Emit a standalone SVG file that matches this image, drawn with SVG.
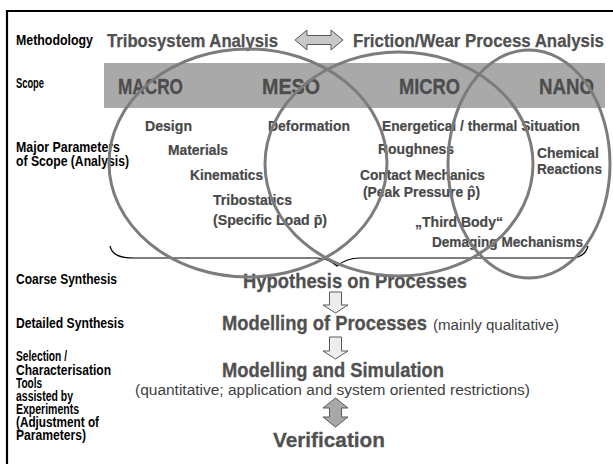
<svg xmlns="http://www.w3.org/2000/svg" width="613" height="464" viewBox="0 0 613 464">
<style>
text{font-family:"Liberation Sans Narrow","Arial Narrow","Liberation Sans",Arial,sans-serif;font-weight:bold}
.lbl{font-size:14px;fill:#000}
.ttl{font-size:18.5px;fill:#505050;stroke:#505050;stroke-width:0.25}
.scope{font-size:22.5px;fill:#4d4d4d;stroke:#4d4d4d;stroke-width:0.3}
.par{font-size:15px;fill:#484848;stroke:#484848;stroke-width:0.2}
.big{font-size:21px;fill:#505050;stroke:#505050;stroke-width:0.3}
.sub{font-size:15.5px;font-weight:normal;fill:#404040}
.ell{fill:none;stroke:#7c7c7c;stroke-width:3}
.arr{stroke:#5a5a5a;stroke-width:1;stroke-linejoin:miter}
</style>
<rect width="613" height="464" fill="#fff"/>
<path d="M7,464 V11 H613" fill="none" stroke="#000" stroke-width="2.2"/>

<g id="left-labels">
<text class="lbl" x="16" y="45" textLength="77" lengthAdjust="spacingAndGlyphs">Methodology</text>
<text class="lbl" x="16" y="88" textLength="28" lengthAdjust="spacingAndGlyphs">Scope</text>
<text class="lbl" x="16" y="152" textLength="104" lengthAdjust="spacingAndGlyphs">Major Parameters</text>
<text class="lbl" x="16" y="166" textLength="113" lengthAdjust="spacingAndGlyphs">of Scope (Analysis)</text>
<text class="lbl" x="16" y="284" textLength="101" lengthAdjust="spacingAndGlyphs">Coarse Synthesis</text>
<text class="lbl" x="16" y="328" textLength="108" lengthAdjust="spacingAndGlyphs">Detailed Synthesis</text>
<text class="lbl" x="16" y="361" textLength="51" lengthAdjust="spacingAndGlyphs">Selection /</text>
<text class="lbl" x="16" y="374.5" textLength="95" lengthAdjust="spacingAndGlyphs">Characterisation</text>
<text class="lbl" x="16" y="388" textLength="26" lengthAdjust="spacingAndGlyphs">Tools</text>
<text class="lbl" x="16" y="401" textLength="57" lengthAdjust="spacingAndGlyphs">assisted by</text>
<text class="lbl" x="16" y="414" textLength="63" lengthAdjust="spacingAndGlyphs">Experiments</text>
<text class="lbl" x="16" y="427" textLength="83" lengthAdjust="spacingAndGlyphs">(Adjustment of</text>
<text class="lbl" x="16" y="440" textLength="70" lengthAdjust="spacingAndGlyphs">Parameters)</text>
</g>

<g id="methodology">
<text class="ttl" x="107" y="47" textLength="171" lengthAdjust="spacingAndGlyphs">Tribosystem Analysis</text>
<text class="ttl" x="353" y="47" textLength="251" lengthAdjust="spacingAndGlyphs">Friction/Wear Process Analysis</text>
</g>

<g id="scope-band">
<rect x="104" y="63" width="501" height="45" fill="#a9a9a9"/>
<text class="scope" x="118" y="94" textLength="65" lengthAdjust="spacingAndGlyphs">MACRO</text>
<text class="scope" x="262" y="94" textLength="58" lengthAdjust="spacingAndGlyphs">MESO</text>
<text class="scope" x="399" y="94" textLength="61" lengthAdjust="spacingAndGlyphs">MICRO</text>
<text class="scope" x="539" y="94" textLength="55" lengthAdjust="spacingAndGlyphs">NANO</text>
</g>

<g id="parameters">
<text class="par" x="145" y="131" textLength="47" lengthAdjust="spacingAndGlyphs">Design</text>
<text class="par" x="168" y="155" textLength="60" lengthAdjust="spacingAndGlyphs">Materials</text>
<text class="par" x="190" y="180" textLength="73" lengthAdjust="spacingAndGlyphs">Kinematics</text>
<text class="par" x="213" y="205" textLength="79" lengthAdjust="spacingAndGlyphs">Tribostatics</text>
<text class="par" x="213" y="225" textLength="114" lengthAdjust="spacingAndGlyphs">(Specific Load p&#x304;)</text>
<text class="par" x="268" y="131" textLength="82" lengthAdjust="spacingAndGlyphs">Deformation</text>
<text class="par" x="382" y="131" textLength="198" lengthAdjust="spacingAndGlyphs">Energetical / thermal Situation</text>
<text class="par" x="378" y="154" textLength="76" lengthAdjust="spacingAndGlyphs">Roughness</text>
<text class="par" x="360" y="180" textLength="125" lengthAdjust="spacingAndGlyphs">Contact Mechanics</text>
<text class="par" x="363" y="197" textLength="117" lengthAdjust="spacingAndGlyphs">(Peak Pressure p&#x302;)</text>
<text class="par" x="415" y="227" textLength="88" lengthAdjust="spacingAndGlyphs">&#x201E;Third Body&#x201C;</text>
<text class="par" x="432" y="247" textLength="151" lengthAdjust="spacingAndGlyphs">Demaging Mechanisms</text>
<text class="par" x="537" y="158" textLength="62" lengthAdjust="spacingAndGlyphs">Chemical</text>
<text class="par" x="537" y="174" textLength="65" lengthAdjust="spacingAndGlyphs">Reactions</text>
</g>

<g id="process-steps">
<text class="big" x="243" y="288" textLength="224" lengthAdjust="spacingAndGlyphs">Hypothesis on Processes</text>
<text class="big" x="222" y="330" textLength="205" lengthAdjust="spacingAndGlyphs">Modelling of Processes</text>
<text class="sub" x="433" y="330" textLength="126" lengthAdjust="spacingAndGlyphs">(mainly qualitative)</text>
<text class="big" x="222" y="377" textLength="222" lengthAdjust="spacingAndGlyphs">Modelling and Simulation</text>
<text class="sub" x="135" y="395" textLength="395" lengthAdjust="spacingAndGlyphs">(quantitative; application and system oriented restrictions)</text>
<text class="big" x="273" y="447" textLength="112" lengthAdjust="spacingAndGlyphs">Verification</text>
</g>

<g id="connectors">
<polygon class="arr" points="295,40 307,30 307,35.5 331,35.5 331,30 343,40 331,50 331,44.5 307,44.5 307,50" fill="#c8c8c8" stroke="#808080"/>
<path d="M110,246 C112,255 120,258 134,258 L316,258 C326,258 331,261 337,266 C343,261 349,258 360,258 L570,258 C580,258 586,254 588,246" fill="none" stroke="#000" stroke-width="1.2"/>
<polygon class="arr" points="329.5,292 341.5,292 341.5,305 348,305 335.5,313 323,305 329.5,305" fill="#ededed"/>
<polygon class="arr" points="329.5,337 341.5,337 341.5,351 348,351 335.5,359 323,351 329.5,351" fill="#ededed"/>
<polygon class="arr" points="335.5,398 348,408 341.5,408 341.5,417 348,417 335.5,427 323,417 329.5,417 329.5,408 323,408" fill="#a8a8a8"/>
</g>

<g id="scope-ellipses">
<ellipse id="macro-ellipse" class="ell" cx="248" cy="163" rx="139" ry="114"/>
<ellipse id="meso-micro-ellipse" class="ell" cx="399" cy="164" rx="134" ry="112"/>
<ellipse id="nano-ellipse" class="ell" cx="529" cy="164" rx="81" ry="114"/>
</g>
</svg>
